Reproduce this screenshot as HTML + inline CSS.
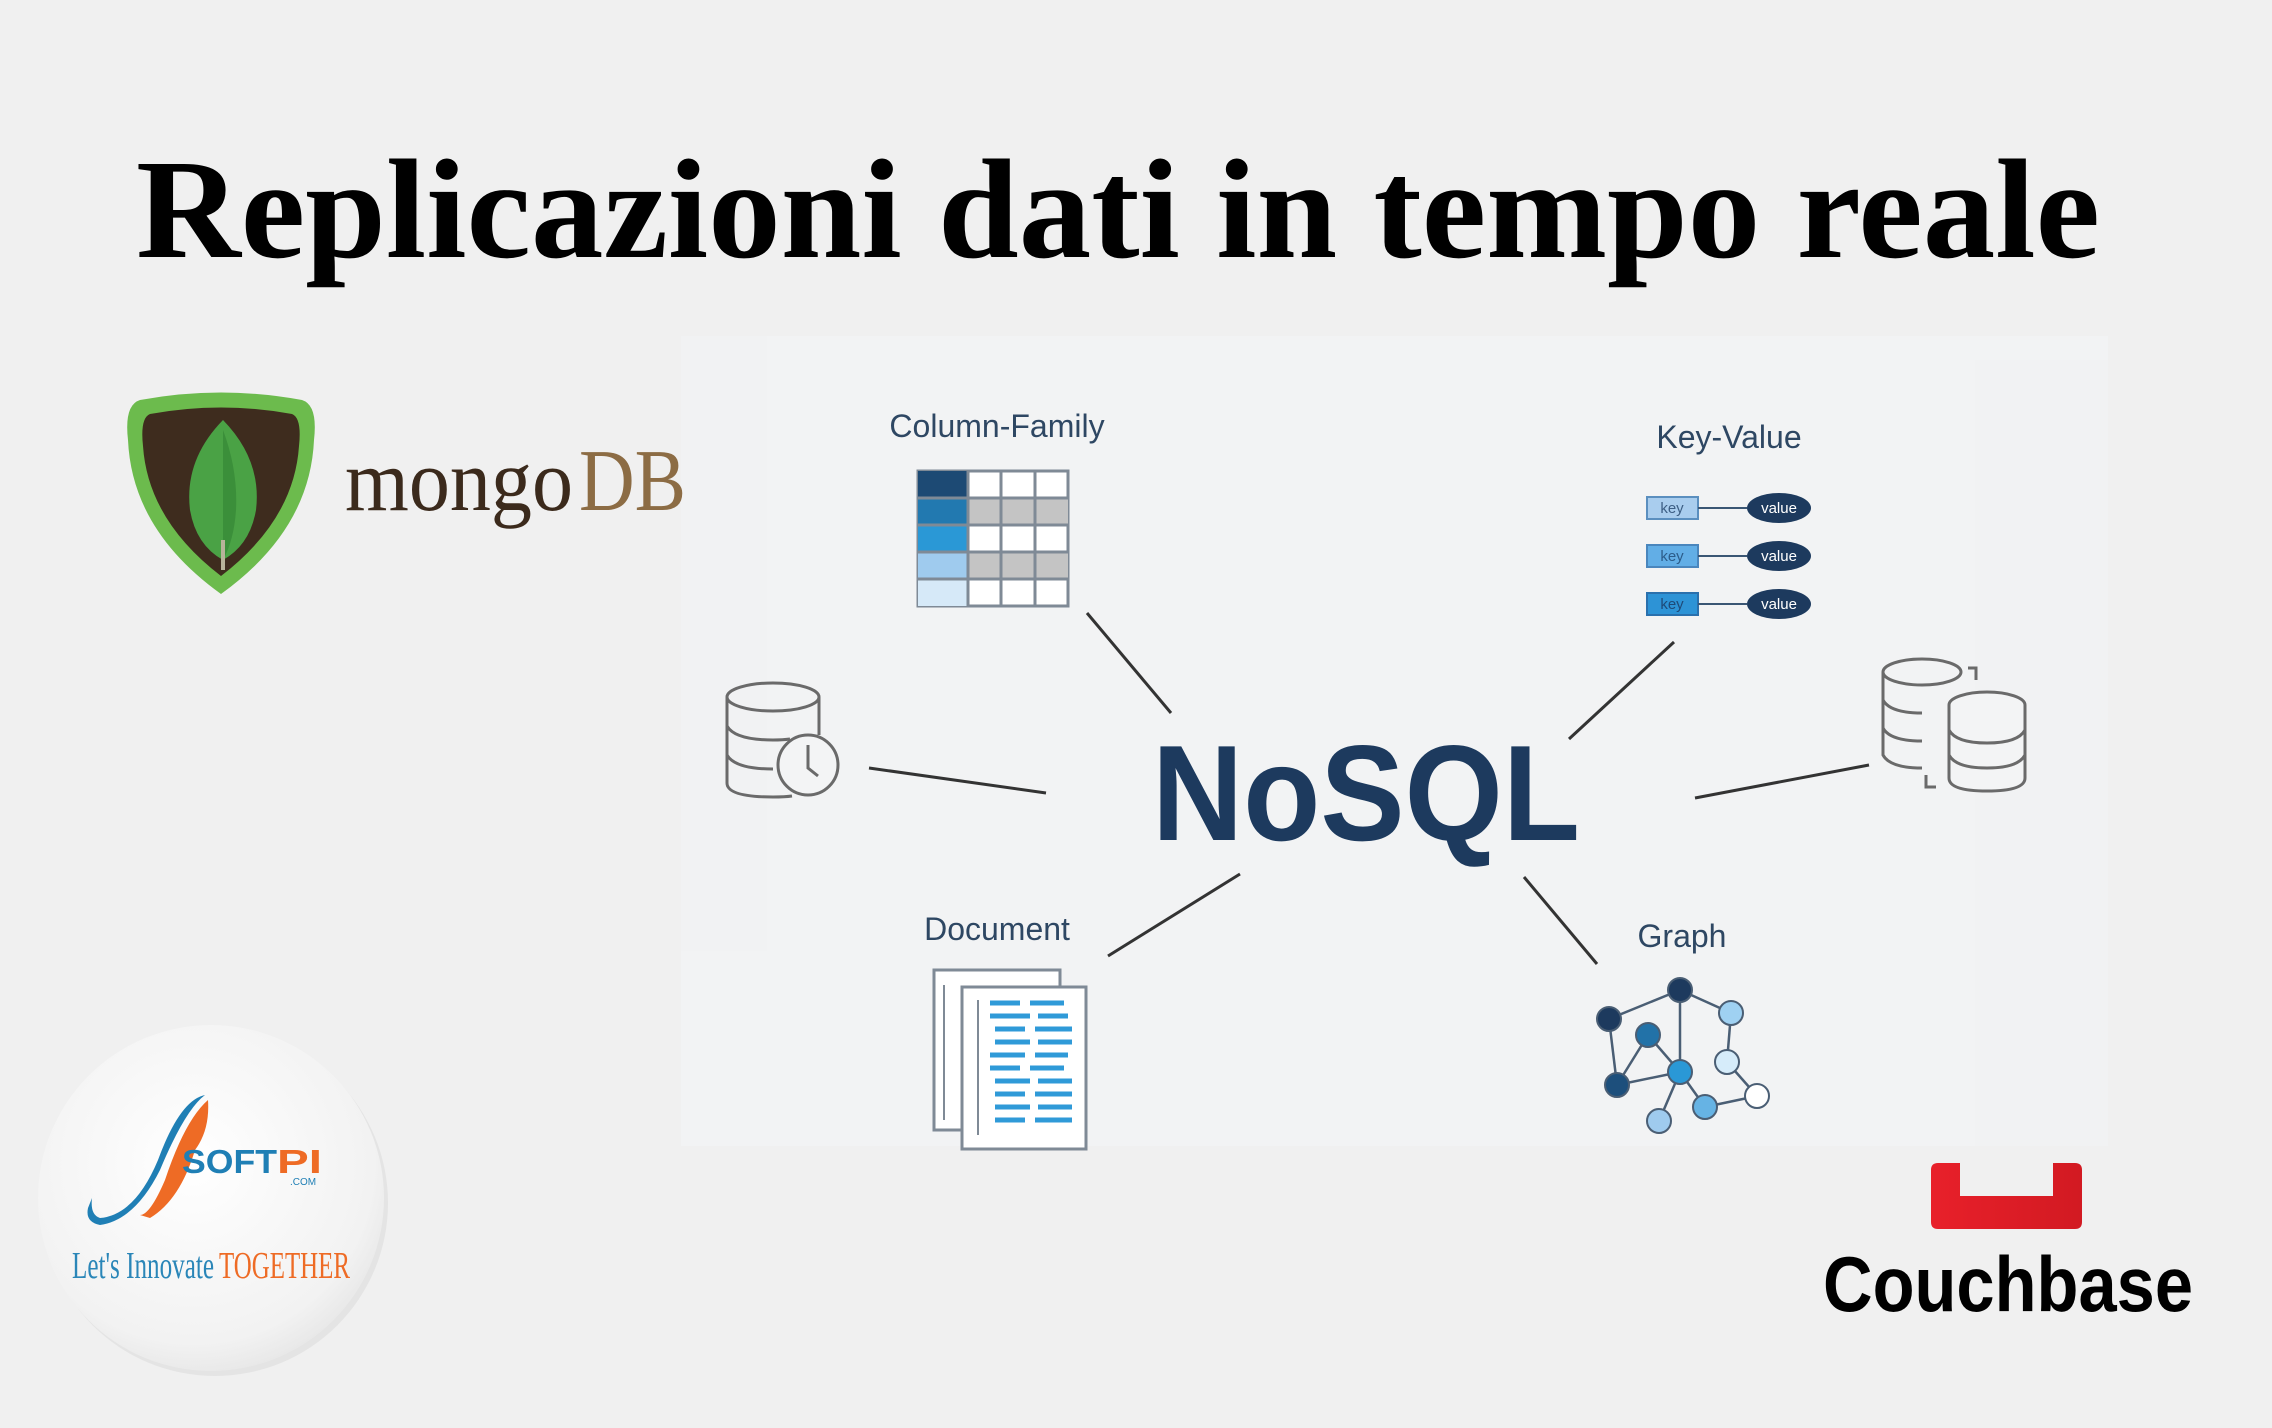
<!DOCTYPE html>
<html><head><meta charset="utf-8"><style>
html,body{margin:0;padding:0;background:#f0f0f0;}
svg{display:block}
</style></head><body>
<svg width="2272" height="1428" viewBox="0 0 2272 1428" xmlns="http://www.w3.org/2000/svg">
<defs>
<radialGradient id="cg" cx="0.45" cy="0.4" r="0.65">
<stop offset="0" stop-color="#ffffff"/><stop offset="0.8" stop-color="#f2f2f2"/><stop offset="1" stop-color="#e4e4e4"/>
</radialGradient>
<linearGradient id="rg" x1="0" x2="1"><stop offset="0" stop-color="#e8202a"/><stop offset="1" stop-color="#d21a22"/></linearGradient>
</defs>
<rect width="2272" height="1428" fill="#f0f0f0"/>
<!-- light panel -->
<rect x="681" y="336" width="1427" height="810" fill="#f2f3f4"/>
<rect x="681" y="336" width="86" height="615" fill="#f1f2f3"/>
<rect x="1975" y="360" width="133" height="786" fill="#f1f2f3"/>

<!-- Title -->
<text x="136" y="257" font-family="Liberation Serif, serif" font-weight="bold" font-size="142" fill="#000" textLength="1964" lengthAdjust="spacingAndGlyphs">Replicazioni dati in tempo reale</text>

<!-- mongoDB -->
<path d="M140 400 Q221 385 302 400 Q318 405 314 440 Q310 530 221 594 Q132 530 128 440 Q124 405 140 400Z" fill="#6cbb4d"/>
<path d="M150 414 Q221 401 292 414 Q302 418 299 446 Q294 520 221 576 Q148 520 143 446 Q140 418 150 414Z" fill="#3e2c1e"/>
<path d="M223 420 Q262 460 256 510 Q250 545 223 560 Q196 545 190 510 Q184 460 223 420Z" fill="#4aa245"/>
<path d="M223 430 Q238 470 236 510 Q234 540 223 560Z" fill="#3b8f3a"/>
<line x1="223" y1="540" x2="223" y2="570" stroke="#b8b39a" stroke-width="4"/>
<text x="345" y="510" font-family="Liberation Serif, serif" font-size="88" fill="#3b2a1c" textLength="228" lengthAdjust="spacingAndGlyphs">mongo</text>
<text x="579" y="510" font-family="Liberation Serif, serif" font-size="88" fill="#8c6c44" textLength="107" lengthAdjust="spacingAndGlyphs">DB</text>

<!-- connectors -->
<g stroke="#333" stroke-width="3">
<line x1="1087" y1="613" x2="1171" y2="713"/>
<line x1="1674" y1="642" x2="1569" y2="739"/>
<line x1="869" y1="768" x2="1046" y2="793"/>
<line x1="1695" y1="798" x2="1869" y2="765"/>
<line x1="1108" y1="956" x2="1240" y2="874"/>
<line x1="1524" y1="877" x2="1597" y2="964"/>
</g>

<!-- NoSQL -->
<text x="1366" y="840" text-anchor="middle" font-family="Liberation Sans, sans-serif" font-weight="bold" font-size="136" fill="#1d3a5e" textLength="428" lengthAdjust="spacingAndGlyphs">NoSQL</text>

<!-- labels -->
<g font-family="Liberation Sans, sans-serif" font-size="32" fill="#2e4763" text-anchor="middle">
<text x="997" y="437">Column-Family</text>
<text x="1729" y="448">Key-Value</text>
<text x="997" y="940">Document</text>
<text x="1682" y="947">Graph</text>
</g>

<!-- Column-family table -->
<g>
<rect x="918" y="471" width="150" height="135" fill="#fff" stroke="#7f8a96" stroke-width="3"/>
<rect x="918" y="471" width="50" height="27" fill="#1d4a74"/>
<rect x="918" y="498" width="50" height="27" fill="#2279b0"/>
<rect x="918" y="525" width="50" height="27" fill="#2a98d6"/>
<rect x="918" y="552" width="50" height="27" fill="#9fcbee"/>
<rect x="918" y="579" width="50" height="27" fill="#d6e9f8"/>
<rect x="968" y="498" width="100" height="27" fill="#c4c4c4"/>
<rect x="968" y="552" width="100" height="27" fill="#c4c4c4"/>
<g stroke="#7f8a96" stroke-width="3">
<line x1="918" y1="498" x2="1068" y2="498"/><line x1="918" y1="525" x2="1068" y2="525"/>
<line x1="918" y1="552" x2="1068" y2="552"/><line x1="918" y1="579" x2="1068" y2="579"/>
<line x1="968" y1="471" x2="968" y2="606"/><line x1="1001" y1="471" x2="1001" y2="606"/><line x1="1035" y1="471" x2="1035" y2="606"/>
</g></g>

<!-- Key-value -->
<g font-family="Liberation Sans, sans-serif" font-size="15" text-anchor="middle">
<rect x="1647" y="497" width="51" height="22" fill="#a9cdee" stroke="#5b8fbf" stroke-width="2"/>
<rect x="1647" y="545" width="51" height="22" fill="#62aee6" stroke="#4a86bd" stroke-width="2"/>
<rect x="1647" y="593" width="51" height="22" fill="#2d93d6" stroke="#2a70ad" stroke-width="2"/>
<g stroke="#3a5674" stroke-width="2"><line x1="1698" y1="508" x2="1747" y2="508"/><line x1="1698" y1="556" x2="1747" y2="556"/><line x1="1698" y1="604" x2="1747" y2="604"/></g>
<ellipse cx="1779" cy="508" rx="32" ry="15" fill="#1d3a5e"/>
<ellipse cx="1779" cy="556" rx="32" ry="15" fill="#1d3a5e"/>
<ellipse cx="1779" cy="604" rx="32" ry="15" fill="#1d3a5e"/>
<text x="1672" y="513" fill="#3d5f85">key</text><text x="1672" y="561" fill="#2b5c8a">key</text><text x="1672" y="609" fill="#1e4a78">key</text>
<text x="1779" y="513" fill="#fff">value</text><text x="1779" y="561" fill="#fff">value</text><text x="1779" y="609" fill="#fff">value</text>
</g>

<!-- DB clock icon -->
<g fill="none" stroke="#6a6a6a" stroke-width="3">
<ellipse cx="773" cy="697" rx="46" ry="14"/>
<path d="M727 697 V783 Q727 797 773 797 Q785 797 792 796"/>
<path d="M819 697 V735"/>
<path d="M727 726 Q735 740 773 740 Q783 740 790 739"/>
<path d="M727 755 Q735 769 773 769"/>
<circle cx="808" cy="765" r="30" fill="#f3f4f5"/>
<path d="M808 745 V768 L818 776"/>
</g>

<!-- Right DB icon -->
<g fill="none" stroke="#6a6a6a" stroke-width="3">
<ellipse cx="1922" cy="672" rx="39" ry="13"/>
<path d="M1883 672 V755 Q1890 768 1922 768"/>
<path d="M1883 700 Q1890 713 1922 713"/><path d="M1883 728 Q1890 741 1922 741"/>
<path d="M1968 668 h8 v12"/><path d="M1926 775 v12 h10"/>
<ellipse cx="1987" cy="705" rx="38" ry="13" fill="#f3f4f5"/>
<path d="M1949 705 V778 Q1949 791 1987 791 Q2025 791 2025 778 V705" fill="#f3f4f5"/>
<path d="M1949 730 Q1956 743 1987 743 Q2018 743 2025 730"/>
<path d="M1949 755 Q1956 768 1987 768 Q2018 768 2025 755"/>
</g>

<!-- Document icon -->
<g>
<rect x="934" y="970" width="126" height="160" fill="#fff" stroke="#7f8a96" stroke-width="3"/>
<rect x="962" y="987" width="124" height="162" fill="#fff" stroke="#7f8a96" stroke-width="3"/>
<line x1="944" y1="985" x2="944" y2="1120" stroke="#7f8a96" stroke-width="2"/>
<line x1="978" y1="1000" x2="978" y2="1135" stroke="#7f8a96" stroke-width="2"/>
<g stroke="#2f9ad8" stroke-width="5">
<line x1="990" y1="1003" x2="1020" y2="1003"/><line x1="1030" y1="1003" x2="1064" y2="1003"/>
<line x1="990" y1="1016" x2="1030" y2="1016"/><line x1="1038" y1="1016" x2="1068" y2="1016"/>
<line x1="995" y1="1029" x2="1025" y2="1029"/><line x1="1035" y1="1029" x2="1072" y2="1029"/>
<line x1="995" y1="1042" x2="1030" y2="1042"/><line x1="1038" y1="1042" x2="1072" y2="1042"/>
<line x1="990" y1="1055" x2="1025" y2="1055"/><line x1="1035" y1="1055" x2="1068" y2="1055"/>
<line x1="990" y1="1068" x2="1020" y2="1068"/><line x1="1030" y1="1068" x2="1064" y2="1068"/>
<line x1="995" y1="1081" x2="1030" y2="1081"/><line x1="1038" y1="1081" x2="1072" y2="1081"/>
<line x1="995" y1="1094" x2="1025" y2="1094"/><line x1="1035" y1="1094" x2="1072" y2="1094"/>
<line x1="995" y1="1107" x2="1030" y2="1107"/><line x1="1038" y1="1107" x2="1072" y2="1107"/>
<line x1="995" y1="1120" x2="1025" y2="1120"/><line x1="1035" y1="1120" x2="1072" y2="1120"/>
</g></g>

<!-- Graph icon -->
<g stroke="#4a5e74" stroke-width="2.5" fill="none">
<line x1="1609" y1="1019" x2="1680" y2="990"/><line x1="1680" y1="990" x2="1731" y2="1013"/>
<line x1="1609" y1="1019" x2="1617" y2="1085"/><line x1="1648" y1="1035" x2="1617" y2="1085"/>
<line x1="1648" y1="1035" x2="1680" y2="1072"/><line x1="1680" y1="990" x2="1680" y2="1072"/>
<line x1="1617" y1="1085" x2="1680" y2="1072"/><line x1="1731" y1="1013" x2="1727" y2="1062"/>
<line x1="1727" y1="1062" x2="1757" y2="1096"/><line x1="1757" y1="1096" x2="1705" y2="1107"/>
<line x1="1680" y1="1072" x2="1705" y2="1107"/><line x1="1680" y1="1072" x2="1659" y2="1121"/>
</g>
<g stroke="#4a5e74" stroke-width="2">
<circle cx="1680" cy="990" r="12" fill="#1d3a5e"/>
<circle cx="1609" cy="1019" r="12" fill="#1d3a5e"/>
<circle cx="1648" cy="1035" r="12" fill="#2272a8"/>
<circle cx="1617" cy="1085" r="12" fill="#1d4f7c"/>
<circle cx="1680" cy="1072" r="12" fill="#2a98d6"/>
<circle cx="1731" cy="1013" r="12" fill="#9fd1f2"/>
<circle cx="1727" cy="1062" r="12" fill="#d6ecfa"/>
<circle cx="1757" cy="1096" r="12" fill="#ffffff"/>
<circle cx="1705" cy="1107" r="12" fill="#66b3e4"/>
<circle cx="1659" cy="1121" r="12" fill="#9fcbee"/>
</g>

<!-- Couchbase -->
<path d="M1931 1170 Q1931 1163 1938 1163 H1960 V1196 H2053 V1163 H2075 Q2082 1163 2082 1170 V1222 Q2082 1229 2075 1229 H1938 Q1931 1229 1931 1222Z" fill="url(#rg)"/>
<text x="1823" y="1311" font-family="Liberation Sans, sans-serif" font-weight="bold" font-size="78" fill="#000" textLength="370" lengthAdjust="spacingAndGlyphs">Couchbase</text>

<!-- SoftPI circle -->
<circle cx="215" cy="1203" r="173" fill="#dcdcdc" opacity="0.6"/>
<circle cx="211" cy="1198" r="173" fill="url(#cg)"/>
<path d="M88 1208 Q85 1222 100 1225 Q135 1220 160 1170 Q185 1110 205 1095 Q180 1100 158 1160 Q135 1215 100 1218 Q90 1215 92 1198Z" fill="#1f7fb5"/>
<path d="M140 1215 Q150 1215 165 1180 Q185 1120 208 1100 Q210 1130 195 1150 Q180 1200 150 1218Z" fill="#ee6b25"/>
<text x="182" y="1173" font-family="Liberation Sans, sans-serif" font-weight="bold" font-size="33" fill="#1f7fb5" textLength="95" lengthAdjust="spacingAndGlyphs">SOFT</text>
<text x="277" y="1173" font-family="Liberation Sans, sans-serif" font-weight="bold" font-size="33" fill="#ee6b25" textLength="45" lengthAdjust="spacingAndGlyphs">PI</text>
<text x="290" y="1185" font-family="Liberation Sans, sans-serif" font-size="10" fill="#1f7fb5">.COM</text>
<text x="72" y="1278" font-family="Liberation Serif, serif" font-size="38" fill="#2a86b8" textLength="142" lengthAdjust="spacingAndGlyphs">Let's Innovate</text>
<text x="219" y="1278" font-family="Liberation Serif, serif" font-size="38" fill="#ee6b25" textLength="131" lengthAdjust="spacingAndGlyphs">TOGETHER</text>
</svg>
</body></html>
